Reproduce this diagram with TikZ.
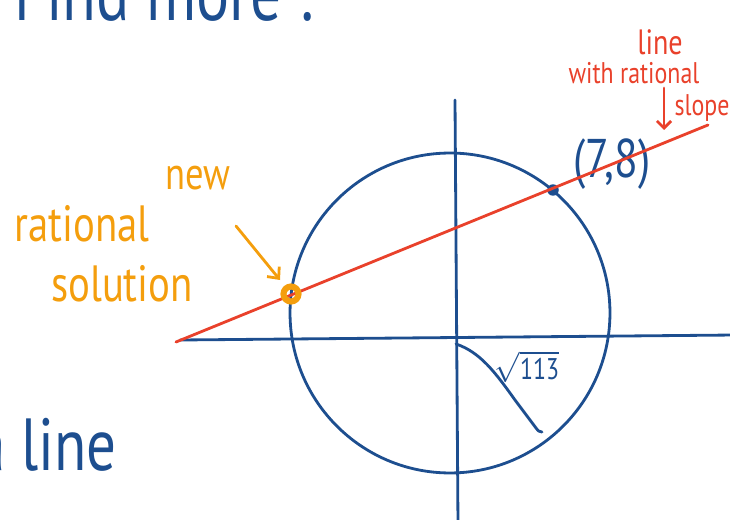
\documentclass[tikz,border=0pt]{standalone}
\usepackage{fontspec}
\setmainfont{PT Sans}[FakeStretch=0.8]
\usepackage{xcolor}
\usetikzlibrary{arrows.meta, positioning, calc}
\definecolor{penblue}{HTML}{1D4E8F}
\definecolor{penred}{HTML}{E9412B}
\definecolor{penorange}{HTML}{F49E0D}

\begin{document}
\begin{tikzpicture}[x=0.02cm, y=-0.02cm, line cap=round, line join=round,
        pen/.style={line width=1.6pt},
        hand/.style={inner sep=0pt}]

            % 边框
            \useasboundingbox (0,0) rectangle (730,520);

            % 标题
            \node[hand, anchor=base west, penblue, font=\fontsize{44}{44}\selectfont]
            (title) at (14,21) {Find more :};
            \node[hand, anchor=base west, penblue, font=\fontsize{42}{42}\selectfont]
            (aline) at (-24,470) {a line};

            % 坐标轴
            \coordinate (xl) at (180,340);
            \coordinate (xr) at (735,335);
            \coordinate (yt) at (455,100);
            \coordinate (yb) at (458,525);
            \draw[pen, penblue] (xl) -- (xr);
            \draw[pen, penblue] (yt) -- (yb);

            % 圆
            \draw[pen, penblue] (450,313) circle[radius=3.2cm];

            % 半径
            \draw[pen, penblue]
            (456,344) .. controls (480,352) and (495,372) .. (515,400)
            -- (536,428) .. controls (538,431) .. (542,432);
            \node[hand, penblue, font=\fontsize{17}{17}\selectfont]
            (rad) at (527,367) {$\sqrt{\mbox{113}}$};

            % 有理点
            \node[circle, fill=penblue, minimum size=0.23cm, inner sep=0pt]
            (pq) at (553,190) {};
            \node[hand, penblue, font=\fontsize{31}{31}\selectfont]
            (pqlab) at (612,164) {(7,8)};

            % 有理斜率的直线
            \coordinate (rl) at (176,342);
            \coordinate (rr) at (708,125);
            \draw[pen, penred] (rl) -- (rr);

            % 新的有理解
            \node[circle, draw=penorange, line width=3.5pt, minimum size=0.3cm, inner sep=0pt]
            (ps) at (291,294) {};

            % 说明文字
            \node[hand, penred, font=\fontsize{20}{20}\selectfont]
            (l1) at (660,42) {line};
            \node[hand, penred, font=\fontsize{17}{17}\selectfont]
            (l2) at (634,73) {with rational};
            \node[hand, penred, font=\fontsize{17}{17}\selectfont]
            (l3) at (702,108) {slope};
            \coordinate (a1) at (664,88);
            \coordinate (a2) at (664,130);
            \draw[pen, penred, -{Straight Barb[length=4pt, width=8pt]}] (a1) -- (a2);

            \node[hand, penorange, font=\fontsize{26}{26}\selectfont]
            (n1) at (198,178) {new};
            \node[hand, penorange, font=\fontsize{29}{29}\selectfont]
            (n2) at (82,224) {rational};
            \node[hand, penorange, font=\fontsize{29}{29}\selectfont]
            (n3) at (122,284) {solution};
            \coordinate (b1) at (236,226);
            \coordinate (b2) at (280,280);
            \draw[pen, penorange, -{Straight Barb[length=5pt, width=9pt]}] (b1) -- (b2);

        \end{tikzpicture}
\end{document}
